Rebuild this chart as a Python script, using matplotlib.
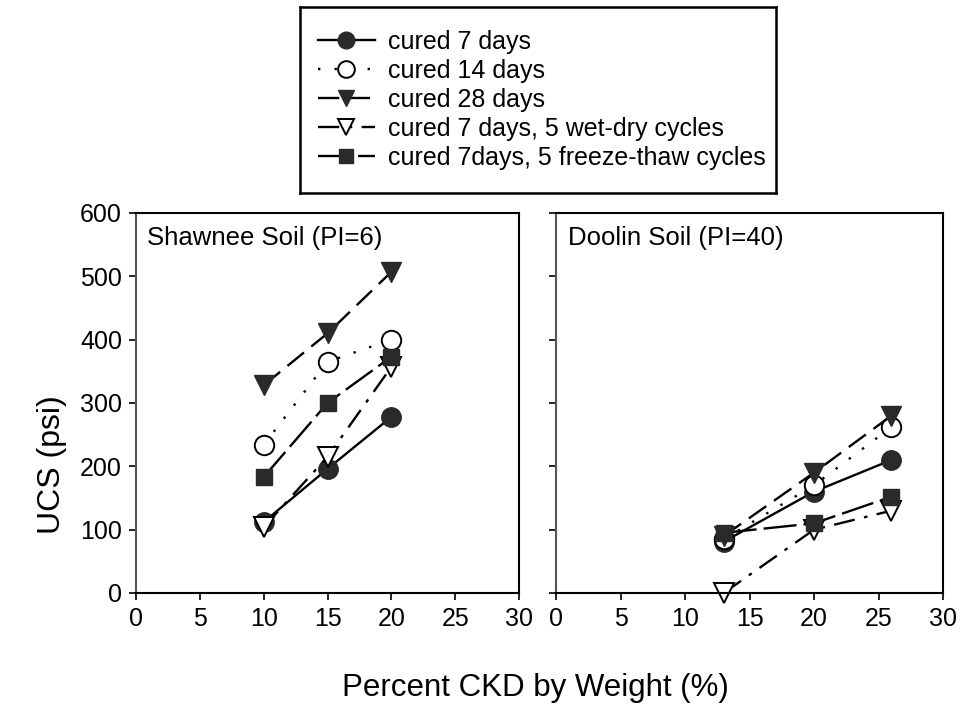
import matplotlib
matplotlib.use("Agg")
import matplotlib.pyplot as plt
from matplotlib.lines import Line2D

plt.rcParams['font.family'] = ['Liberation Sans', 'DejaVu Sans']

series_labels = ["cured 7 days", "cured 14 days", "cured 28 days",
                 "cured 7 days, 5 wet-dry cycles", "cured 7days, 5 freeze-thaw cycles"]

shawnee_x = [10, 15, 20]
shawnee_7d = [112, 196, 278]
shawnee_14d = [234, 365, 400]
shawnee_28d = [328, 410, 507]
shawnee_wd = [104, 215, 357]
shawnee_ft = [183, 300, 373]

doolin_x = [13, 20, 26]
doolin_7d = [81, 160, 210]
doolin_14d = [85, 170, 262]
doolin_28d = [90, 190, 280]
doolin_wd = [0, 100, 130]
doolin_ft = [95, 110, 152]

xticks = [0, 5, 10, 15, 20, 25, 30]
yticks = [0, 100, 200, 300, 400, 500, 600]

dark = '#2a2a2a'
styles = [
    dict(marker='o', ms=14, mfc=dark, mec=dark, ls='-'),
    dict(marker='o', ms=14, mfc='white', mec='black', mew=1.4, ls=(0, (1, 6))),
    dict(marker='v', ms=14, mfc=dark, mec=dark, ls=(0, (9, 4))),
    dict(marker='v', ms=14, mfc='white', mec='black', mew=1.4, ls=(0, (9, 4, 1.5, 4))),
    dict(marker='s', ms=12, mfc=dark, mec=dark, ls=(0, (14, 3))),
]

fig = plt.figure(figsize=(9.63, 7.07), dpi=100)
axL = fig.add_axes([136/963, 1-593/707, 383/963, 380/707])
axR = fig.add_axes([556/963, 1-593/707, 387/963, 380/707])

def draw(ax, x, ys, title, show_ylabels):
    for y, st in zip(ys, styles):
        ax.plot(x, y, color='black', lw=1.7, clip_on=False, **st)
    ax.set_xlim(0, 30)
    ax.set_ylim(0, 600)
    ax.set_xticks(xticks)
    ax.set_yticks(yticks)
    ax.tick_params(direction='out', length=5, width=1.2, labelsize=18, pad=5)
    if not show_ylabels:
        ax.set_yticklabels([])
    for s in ax.spines.values():
        s.set_linewidth(1.5)
    ax.spines['left'].set_color('#555555')
    ax.text(0.03, 0.965, title, transform=ax.transAxes, fontsize=18.5, va='top', ha='left')

draw(axL, shawnee_x, [shawnee_7d, shawnee_14d, shawnee_28d, shawnee_wd, shawnee_ft],
     "Shawnee Soil (PI=6)", True)
draw(axR, doolin_x, [doolin_7d, doolin_14d, doolin_28d, doolin_wd, doolin_ft],
     "Doolin Soil (PI=40)", False)

fig.text(52/963, 1-465/707, "UCS (psi)", fontsize=23, rotation=90, ha='center', va='center')
fig.text(535/963, 1-688/707, "Percent CKD by Weight (%)", fontsize=22.5, ha='center', va='center')

# legend box
lax = fig.add_axes([300/963, 1-193/707, 476/963, 186/707])
lax.set_xticks([]); lax.set_yticks([])
for s in lax.spines.values():
    s.set_linewidth(1.8)
handles = [Line2D([], [], color='black', lw=1.7, **{**st, 'ms': st['ms'] - 2}) for st in styles]
lax.legend(handles, series_labels, loc='center left', frameon=False, fontsize=18,
           handlelength=2.3, handletextpad=0.5, labelspacing=0.2, borderaxespad=0.3)

fig.savefig("out.png", dpi=100)
